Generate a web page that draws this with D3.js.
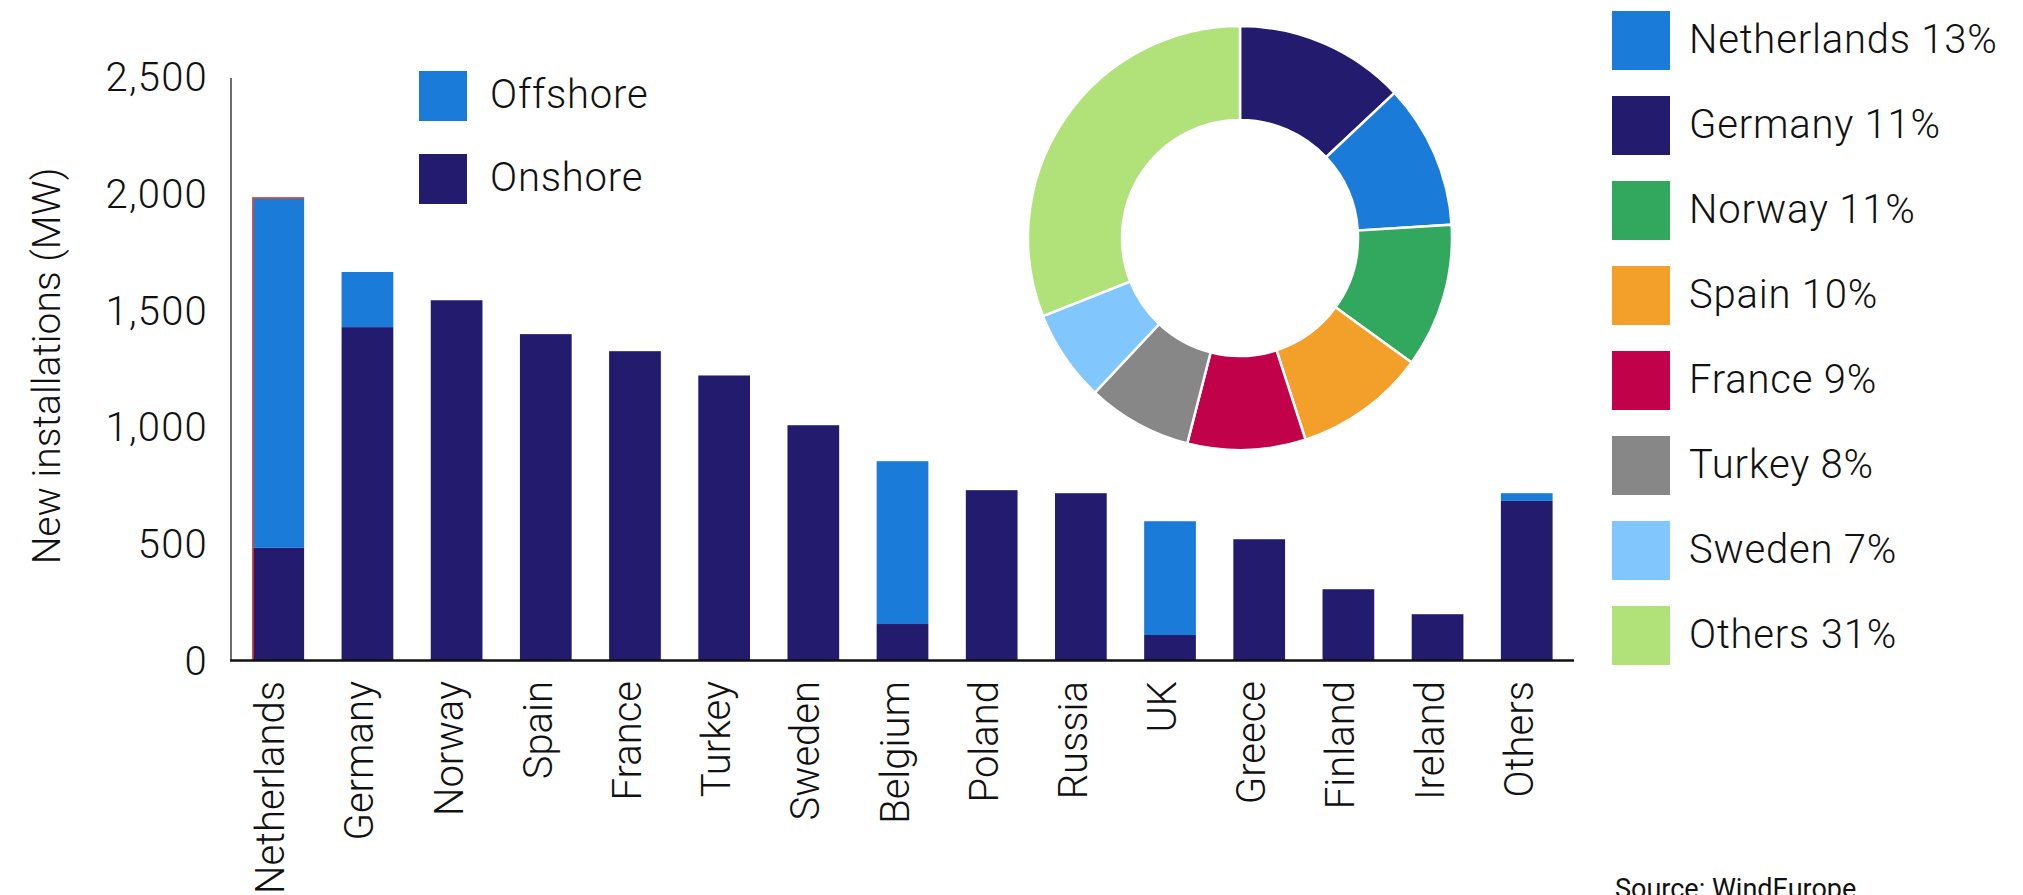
<!DOCTYPE html>
<html>
<head>
<meta charset="utf-8">
<script src="https://cdn.jsdelivr.net/npm/d3@7"></script>
<style>
  html, body { margin: 0; padding: 0; background: #ffffff; }
  svg { display: block; }
  text { font-family: Roboto, "Liberation Sans", sans-serif; font-weight: 300; fill: #111111; }
</style>
</head>
<body>
<svg id="chart" width="2023" height="895"></svg>
<script>
// New wind installations by country (MW)
const countries = ["Netherlands", "Germany", "Norway", "Spain", "France", "Turkey", "Sweden",
                   "Belgium", "Poland", "Russia", "UK", "Greece", "Finland", "Ireland", "Others"];
const onshore  = [480, 1425, 1540, 1395, 1322, 1218, 1005, 154, 727, 714, 107, 517, 303, 196, 681];
const offshore = [1500, 236, 0, 0, 0, 0, 0, 697, 0, 0, 487, 0, 0, 0, 33];
const yTicks = [0, 500, 1000, 1500, 2000, 2500];
const seriesNames = ["Offshore", "Onshore"];
const highlighted = "Netherlands";

// Share of total installations (%)
const shareLabels = ["Netherlands", "Germany", "Norway", "Spain", "France", "Turkey", "Sweden", "Others"];
const shareValues = [13, 11, 11, 10, 9, 8, 7, 31];

const BLUE = "#1a7bd9", NAVY = "#231b6e";
const seriesColors = { Offshore: BLUE, Onshore: NAVY };
const shareLegendColors = [BLUE, NAVY, "#32a85f", "#f3a02a", "#c1024a", "#878787", "#81c7fe", "#b0e279"];
const shareSliceColors  = [NAVY, BLUE, "#32a85f", "#f3a02a", "#c1024a", "#878787", "#81c7fe", "#b0e279"];

const svg = d3.select("#chart");

// ---------- stacked bar chart ----------
const x = d3.scaleBand().domain(countries).range([231, 1574]).paddingInner(0.42).paddingOuter(0.24);
const y = d3.scaleLinear().domain([0, 2500]).range([660, 76]);

const rows = countries.map((c, i) => ({ country: c, Onshore: onshore[i], Offshore: offshore[i] }));
const stack = d3.stack().keys(["Onshore", "Offshore"])(rows);

svg.append("g").selectAll("g").data(stack).join("g")
  .attr("fill", s => seriesColors[s.key])
  .selectAll("rect").data(s => s.filter(d => d[1] > d[0])).join("rect")
    .attr("x", d => x(d.data.country))
    .attr("width", x.bandwidth())
    .attr("y", d => y(d[1]))
    .attr("height", d => y(d[0]) - y(d[1]));

// thin red outline on the highlighted bar
const hi = rows.find(r => r.country === highlighted);
svg.append("path")
  .attr("d", `M${x(highlighted) + 0.5},${y(0)} V${y(hi.Onshore + hi.Offshore) + 0.5} H${x(highlighted) + x.bandwidth()}`)
  .attr("fill", "none").attr("stroke", "#e8452c").attr("stroke-width", 1.5);

// y axis
const yAxis = svg.append("g").attr("transform", `translate(231,0)`)
  .call(d3.axisLeft(y).tickValues(yTicks).tickSize(0).tickPadding(23).tickFormat(d3.format(",")));
yAxis.select(".domain").remove();
yAxis.selectAll("text").attr("dy", "0.36em")
  .style("font-size", "40px").style("font-family", null).style("letter-spacing", "1.2px");
svg.append("line").attr("x1", 231).attr("x2", 231).attr("y1", y(2500) + 2).attr("y2", y(0))
  .attr("stroke", "#4a4a4a").attr("stroke-width", 1.6);

// x axis
const xAxis = svg.append("g").attr("transform", `translate(0,${y(0)})`)
  .call(d3.axisBottom(x).tickSize(0).tickPadding(0));
xAxis.select(".domain").remove();
xAxis.selectAll("text")
  .attr("transform", "rotate(-90)")
  .attr("x", -21).attr("y", 0).attr("dy", "0.15em")
  .style("text-anchor", "end").style("font-size", "40px").style("font-family", null);
svg.append("line").attr("x1", 230).attr("x2", 1574).attr("y1", y(0) + 0.5).attr("y2", y(0) + 0.5)
  .attr("stroke", "#111111").attr("stroke-width", 2.4);

// y axis title
svg.append("text")
  .attr("transform", "translate(60,366) rotate(-90)")
  .attr("text-anchor", "middle")
  .style("font-size", "39px")
  .text("New installations (MW)");

// series legend
const sl = svg.append("g").selectAll("g").data(seriesNames).join("g")
  .attr("transform", (d, i) => `translate(419,${71 + i * 83})`);
sl.append("rect").attr("width", 48).attr("height", 50).attr("fill", d => seriesColors[d]);
sl.append("text").attr("x", 71).attr("y", 37)
  .style("font-size", "40px").style("letter-spacing", "0.8px").text(d => d);

// ---------- donut ----------
const pie = d3.pie().sort(null).value(d => d);
const arc = d3.arc().innerRadius(118).outerRadius(212);
svg.append("g").attr("transform", "translate(1240,238)")
  .selectAll("path").data(pie(shareValues)).join("path")
    .attr("d", arc)
    .attr("fill", (d, i) => shareSliceColors[i])
    .attr("stroke", "#ffffff").attr("stroke-width", 2.5);

// share legend
const pl = svg.append("g").selectAll("g").data(shareLabels).join("g")
  .attr("transform", (d, i) => `translate(1612,${11 + i * 85})`);
pl.append("rect").attr("width", 58).attr("height", 59).attr("fill", (d, i) => shareLegendColors[i]);
pl.append("text").attr("x", 77).attr("y", 41.5)
  .style("font-size", "40px").style("letter-spacing", "0.8px")
  .text((d, i) => `${d} ${shareValues[i]}%`);

// source note
svg.append("text").attr("x", 1615).attr("y", 898)
  .style("font-size", "27px").style("font-weight", 400)
  .text("Source: WindEurope");
</script>
</body>
</html>
